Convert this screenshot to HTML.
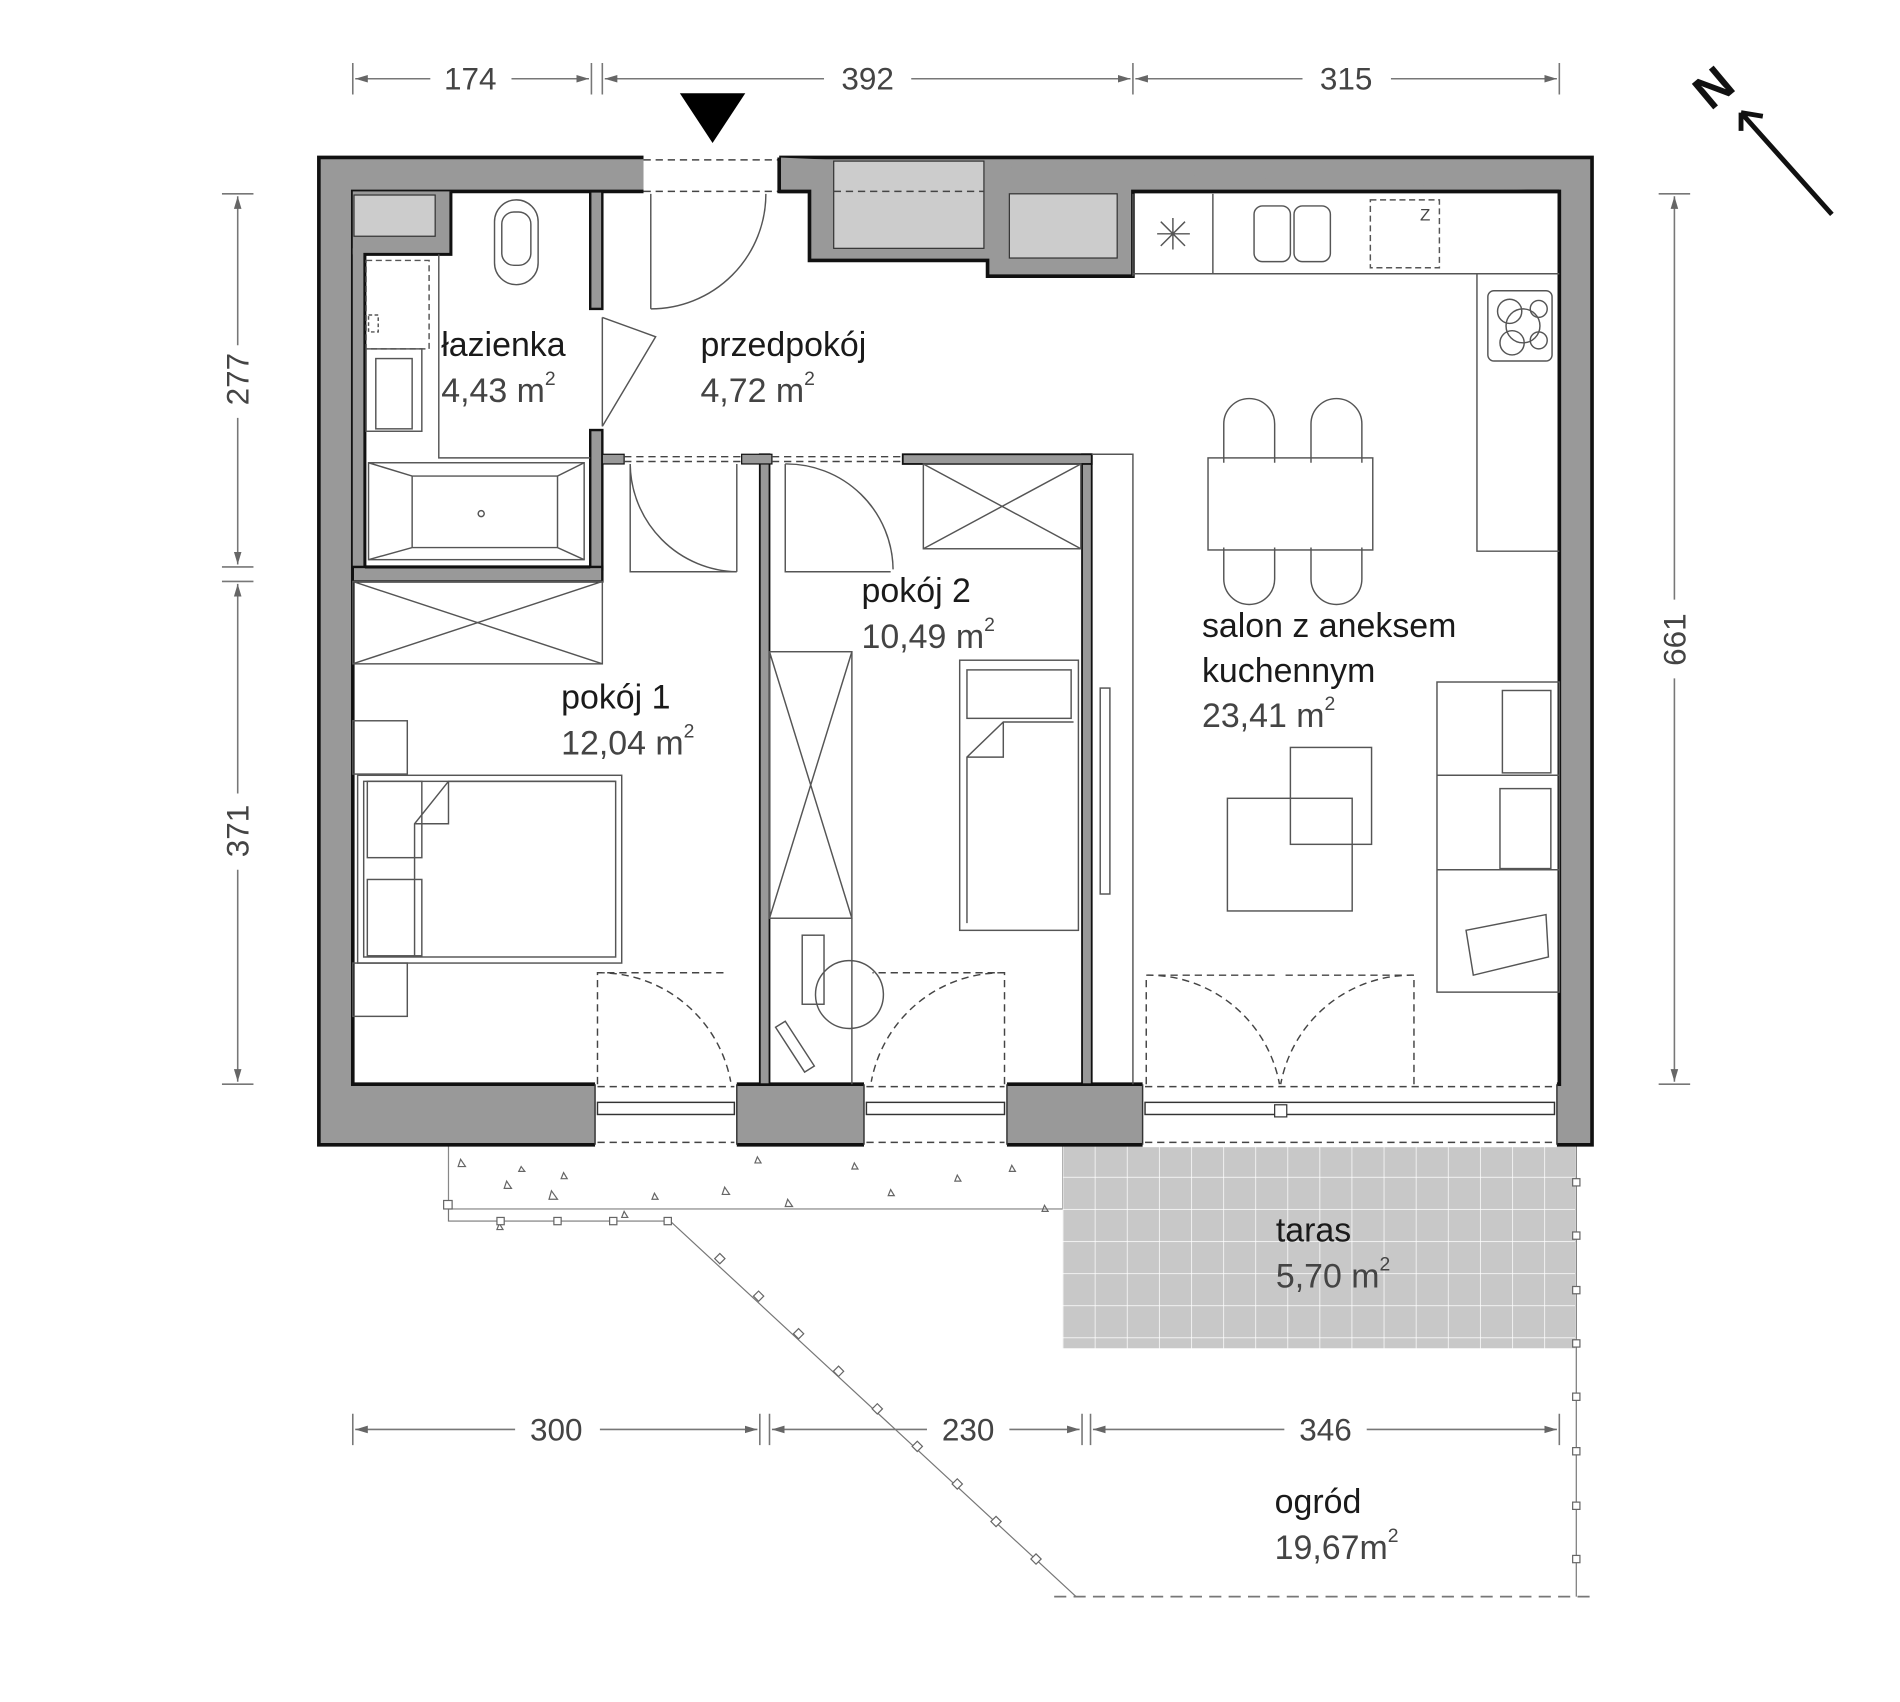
<!DOCTYPE html>
<html><head><meta charset="utf-8"><style>
html,body{margin:0;padding:0;background:#fff;}
svg{display:block;}
text{font-family:"Liberation Sans",sans-serif;}
.dim{font-size:26px;fill:#444;}
.nm{font-size:28px;fill:#1a1a1a;}
.ar{font-size:28px;fill:#444;}
.f{fill:none;stroke:#555;stroke-width:1.2;}
.d{fill:none;stroke:#444;stroke-width:1.2;stroke-dasharray:6 4;}
</style></head><body>
<svg width="1900" height="1702" viewBox="0 0 1568 1405" xmlns="http://www.w3.org/2000/svg">
<defs>
<marker id="a" viewBox="0 0 10 10" refX="10" refY="5" markerWidth="8" markerHeight="8" orient="auto-start-reverse"><path d="M0,2 L10,5 L0,8z" fill="#666"/></marker>
<pattern id="tile" width="26.5" height="26.5" patternUnits="userSpaceOnUse" x="877" y="945"><rect width="26.5" height="26.5" fill="#c8c8c8"/><path d="M0,0H26.5M0,0V26.5" stroke="#fff" stroke-width="1.2"/></pattern>
</defs>
<g stroke="#777" stroke-width="1.3" fill="none">
<path d="M291,52V78M488,52V78M497,52V78M935,52V78M1287,52V78"/>
<path d="M293,65H355M422,65H486" marker-start="url(#a)" marker-end="url(#a)"/>
<path d="M499,65H680M752,65H933" marker-start="url(#a)" marker-end="url(#a)"/>
<path d="M937,65H1075M1148,65H1285" marker-start="url(#a)" marker-end="url(#a)"/>
<path d="M183,160H209M183,468H209M183,480H209M183,895H209"/>
<path d="M196,162V285M196,345V466" marker-start="url(#a)" marker-end="url(#a)"/>
<path d="M196,482V655M196,718V893" marker-start="url(#a)" marker-end="url(#a)"/>
<path d="M1369,160H1395M1369,895H1395"/>
<path d="M1382,162V495M1382,560V893" marker-start="url(#a)" marker-end="url(#a)"/>
<path d="M291,1167V1193M627,1167V1193M635,1167V1193M893,1167V1193M900,1167V1193M1287,1167V1193"/>
<path d="M293,1180H425M495,1180H625" marker-start="url(#a)" marker-end="url(#a)"/>
<path d="M637,1180H765M833,1180H891" marker-start="url(#a)" marker-end="url(#a)"/>
<path d="M902,1180H1060M1128,1180H1285" marker-start="url(#a)" marker-end="url(#a)"/>
</g>
<g class="dim" text-anchor="middle">
<text x="388" y="74">174</text><text x="716" y="74">392</text><text x="1111" y="74">315</text>
<text x="459" y="1189">300</text><text x="799" y="1189">230</text><text x="1094" y="1189">346</text>
<text transform="translate(205,313) rotate(-90)">277</text>
<text transform="translate(205,686) rotate(-90)">371</text>
<text transform="translate(1391,528) rotate(-90)">661</text>
</g>
<text x="0" y="0" font-size="40" font-weight="bold" fill="#111" transform="translate(1412,92) rotate(-40)">N</text>
<path d="M1512,177L1437,93M1437,93L1437,108M1437,93L1455,96" stroke="#111" stroke-width="4" fill="none"/>
<path d="M561,77H615L588,118z" fill="#000"/>
<rect x="370" y="945" width="507" height="53" fill="#fff" stroke="#888" stroke-width="1"/>
<g fill="none" stroke="#666" stroke-width="1">
<path d="M380,957l4,6h-6z M418,975l4,6h-6z M455,983l5,7h-7z M515,1000l3,5h-5z M465,968l3,5h-5z M598,980l4,6h-6z M625,955l3,5h-5z M650,990l4,6h-6z M705,960l3,5h-5z M735,982l3,5h-5z M835,962l3,5h-5z M862,995l3,5h-5z M412,1010l3,5h-5z M430,963l3,4h-5z M540,985l3,5h-5z M790,970l3,5h-5z"/>
</g>
<rect x="877" y="945" width="423" height="168" fill="url(#tile)"/>
<g stroke="#777" stroke-width="1" fill="none">
<path d="M370,995V1008H553L888,1318"/>
<path d="M1301,945V1318"/>
<path d="M870,1318H1314" stroke-dasharray="10 6" stroke-width="1.5"/>
</g>
<g fill="#fff" stroke="#666" stroke-width="1">
<rect x="366" y="991" width="7" height="7"/><rect x="410" y="1005" width="6" height="6"/><rect x="457" y="1005" width="6" height="6"/><rect x="503" y="1005" width="6" height="6"/><rect x="548" y="1005" width="6" height="6"/>
<rect x="591" y="1036" width="6" height="6" transform="rotate(45 594 1039)"/><rect x="623" y="1067" width="6" height="6" transform="rotate(45 626 1070)"/><rect x="656" y="1098" width="6" height="6" transform="rotate(45 659 1101)"/><rect x="689" y="1129" width="6" height="6" transform="rotate(45 692 1132)"/><rect x="721" y="1160" width="6" height="6" transform="rotate(45 724 1163)"/><rect x="754" y="1191" width="6" height="6" transform="rotate(45 757 1194)"/><rect x="787" y="1222" width="6" height="6" transform="rotate(45 790 1225)"/><rect x="819" y="1253" width="6" height="6" transform="rotate(45 822 1256)"/><rect x="852" y="1284" width="6" height="6" transform="rotate(45 855 1287)"/>
<rect x="1298" y="973" width="6" height="6"/><rect x="1298" y="1017" width="6" height="6"/><rect x="1298" y="1062" width="6" height="6"/><rect x="1298" y="1106" width="6" height="6"/><rect x="1298" y="1150" width="6" height="6"/><rect x="1298" y="1195" width="6" height="6"/><rect x="1298" y="1240" width="6" height="6"/><rect x="1298" y="1284" width="6" height="6"/>
</g>
<path fill-rule="evenodd" fill="#999" stroke="#111" stroke-width="3" d="M263,130H1314V945H263z M291,158H1287V895H291z"/>
<rect x="531" y="128" width="112" height="32" fill="#fff"/>
<path d="M531,132H643M531,158H643" class="d"/>
<rect x="491" y="893" width="117" height="54" fill="#fff"/>
<rect x="713" y="893" width="118" height="54" fill="#fff"/>
<rect x="943" y="893" width="342" height="54" fill="#fff"/>
<g stroke="#333" stroke-width="1.2" fill="none">
<path d="M491,895V945M608,895V945M713,895V945M831,895V945M943,895V945M1285,895V945"/>
<rect x="493" y="910" width="113" height="10"/><rect x="715" y="910" width="114" height="10"/>
<rect x="945" y="910" width="338" height="10"/>
</g>
<path d="M493,897H606M493,943H606M715,897H829M715,943H829M945,897H1285M945,943H1285" class="d"/>
<rect x="1052" y="912" width="10" height="10" fill="#fff" stroke="#333"/>
<path fill="#999" stroke="#111" stroke-width="3" d="M643,130V158H668V215H815V228H935V158H1287" />
<rect x="688" y="133" width="124" height="72" fill="#ccc" stroke="#333"/>
<path d="M688,158H812" class="d"/>
<rect x="833" y="160" width="89" height="53" fill="#ccc" stroke="#333"/>
<!-- bathroom -->
<rect x="291" y="158" width="81" height="52" fill="#999"/>
<rect x="291" y="205" width="10" height="263" fill="#999"/>
<rect x="292" y="161" width="67" height="34" fill="#ccc" stroke="#333"/>
<path d="M301,468V210H372V158" stroke="#111" stroke-width="2.5" fill="none"/>
<rect x="487" y="158" width="10" height="97" fill="#999" stroke="#111" stroke-width="2"/>
<rect x="487" y="355" width="10" height="115" fill="#999" stroke="#111" stroke-width="2"/>
<rect x="291" y="468" width="206" height="12" fill="#999" stroke="#111" stroke-width="2"/>
<path d="M301,468H487" stroke="#111" stroke-width="2.5"/>
<rect x="627" y="375" width="8" height="520" fill="#999" stroke="#111" stroke-width="1.5"/>
<rect x="893" y="375" width="8" height="520" fill="#999" stroke="#111" stroke-width="1.5"/>
<rect x="745" y="375" width="156" height="8" fill="#999" stroke="#111" stroke-width="1.5"/>
<rect x="497" y="375" width="18" height="8" fill="#999" stroke="#111" stroke-width="1"/>
<rect x="612" y="375" width="25" height="8" fill="#999" stroke="#111" stroke-width="1"/>
<path d="M515,377H612M637,377H745M515,381H612M637,381H745" class="d"/>
<path d="M901,375H935V895" class="f"/>
<g class="f">
<path d="M537,160V255 M537,255A95,95 0 0 0 632,160"/>
<path d="M497,262L541,278L497,352 M497,262V352"/>
<path d="M520,383V472H608 M520,383A90,90 0 0 0 608,472"/>
<path d="M648,383V472H735 M648,383A88,88 0 0 1 737,470"/>
<path d="M608,383V472"/>
</g>
<path class="d" d="M493,895V803H600 M493,803A110,110 0 0 1 603,893 M829,895V803H720 M829,803A110,110 0 0 0 719,893 M946,895V805H1053 M946,805A110,110 0 0 1 1056,895 M1167,895V805H1060 M1167,805A110,110 0 0 0 1057,895"/>
<g class="f">
<rect x="302" y="215" width="52" height="73" stroke-dasharray="5 3"/>
<rect x="304" y="260" width="8" height="14" stroke-dasharray="3 2"/>
<rect x="302" y="288" width="46" height="68"/><rect x="310" y="296" width="30" height="58"/>
<path d="M362,210V378H487"/>
<rect x="304" y="382" width="178" height="80"/><path d="M304,382L340,393H460L482,382 M304,462L340,452H460L482,462 M340,393V452M460,393V452"/>
<circle cx="397" cy="424" r="2.5"/>
<rect x="408" y="165" width="36" height="70" rx="18"/><rect x="414" y="175" width="24" height="44" rx="10"/>
</g>
<g class="f">
<path d="M935,228V160 M935,226H1287 M1001,160V226 M1219,226V455H1287"/>
<path d="M955,193H982M968,180V206M958,183L978,203M978,183L958,203"/>
<rect x="1035" y="170" width="30" height="46" rx="7"/><rect x="1068" y="170" width="30" height="46" rx="7"/>
<rect x="1131" y="165" width="57" height="56" stroke-dasharray="5 3"/>
<rect x="1228" y="240" width="53" height="58" rx="5"/>
<circle cx="1246" cy="257" r="10"/><circle cx="1270" cy="255" r="7"/><circle cx="1248" cy="283" r="10"/><circle cx="1270" cy="281" r="7"/><circle cx="1257" cy="269" r="14"/>
</g>
<g class="f">
<rect x="997" y="378" width="136" height="76"/>
<path d="M1010,382V350A19,19 0 0 1 1052,350V382M1082,382V350A19,19 0 0 1 1124,350V382"/>
<path d="M1010,452V478A19,19 0 0 0 1052,478V452M1082,452V478A19,19 0 0 0 1124,478V452"/>
</g>
<g class="f">
<rect x="1013" y="659" width="103" height="93"/><rect x="1065" y="617" width="67" height="80"/>
<rect x="1186" y="563" width="101" height="256"/><path d="M1186,640H1287M1186,718H1287"/>
<rect x="1240" y="570" width="40" height="68"/><rect x="1238" y="651" width="42" height="66"/>
<path d="M1210,768L1276,755L1278,790L1216,805Z"/>
<rect x="908" y="568" width="8" height="170"/>
</g>
<g class="f">
<rect x="291" y="480" width="206" height="68"/><path d="M291,480L497,548M497,480L291,548"/>
<rect x="291" y="595" width="45" height="44"/><rect x="291" y="795" width="45" height="44"/>
<rect x="295" y="640" width="218" height="155"/><rect x="300" y="645" width="208" height="145"/>
<rect x="303" y="645" width="45" height="63"/><rect x="303" y="726" width="45" height="63"/>
<path d="M342,790V680L370,645H508"/><path d="M342,680H370V645"/>
</g>
<g class="f">
<rect x="762" y="383" width="130" height="70"/><path d="M762,383L892,453M892,383L762,453"/>
<rect x="635" y="538" width="68" height="220"/><path d="M635,538L703,758M703,538L635,758"/>
<path d="M703,758V895"/>
<rect x="662" y="772" width="18" height="57"/>
<path d="M640,848L648,843L672,880L664,885Z"/>
<path d="M700,793A26,26 0 1 1 702,849A28,28 0 0 1 700,793Z"/>
<rect x="792" y="545" width="98" height="223"/><rect x="798" y="553" width="86" height="40"/>
<path d="M798,762V625L828,596H886M798,625H828V596"/>
</g>
<text class="nm" x="364" y="294">łazienka</text>
<text class="ar" x="364" y="332">4,43 m<tspan font-size="16" dy="-14">2</tspan></text>
<text class="nm" x="578" y="294">przedpokój</text>
<text class="ar" x="578" y="332">4,72 m<tspan font-size="16" dy="-14">2</tspan></text>
<text class="nm" x="711" y="497">pokój 2</text>
<text class="ar" x="711" y="535">10,49 m<tspan font-size="16" dy="-14">2</tspan></text>
<text class="nm" x="463" y="585">pokój 1</text>
<text class="ar" x="463" y="623">12,04 m<tspan font-size="16" dy="-14">2</tspan></text>
<text class="nm" x="992" y="526">salon z aneksem</text>
<text class="nm" x="992" y="563">kuchennym</text>
<text class="ar" x="992" y="600">23,41 m<tspan font-size="16" dy="-14">2</tspan></text>
<text class="nm" x="1053" y="1025">taras</text>
<text class="ar" x="1053" y="1063">5,70 m<tspan font-size="16" dy="-14">2</tspan></text>
<text class="nm" x="1052" y="1249">ogród</text>
<text class="ar" x="1052" y="1287">19,67m<tspan font-size="16" dy="-14">2</tspan></text>
<text x="1172" y="182" font-size="14" fill="#444">Z</text>
</svg>
</body></html>
